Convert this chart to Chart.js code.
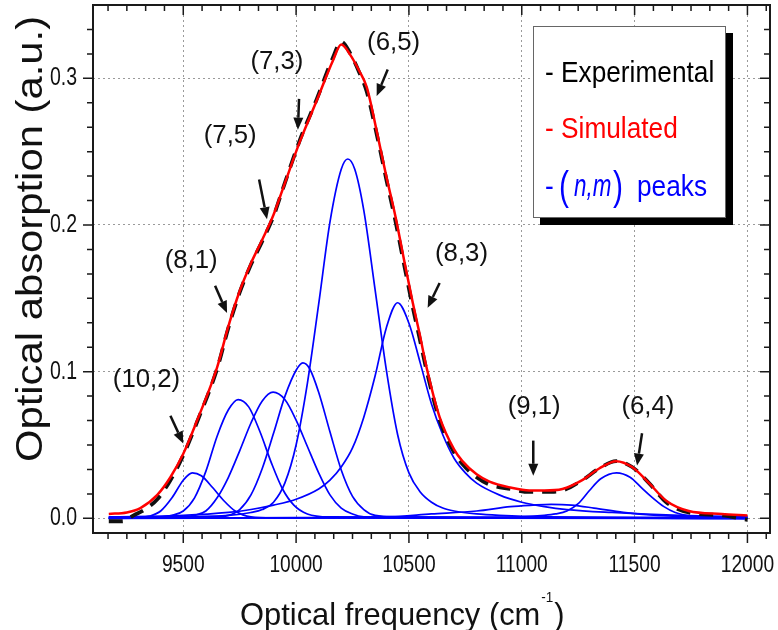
<!DOCTYPE html>
<html>
<head>
<meta charset="utf-8">
<script src="https://cdn.jsdelivr.net/npm/chart.js@4"></script>
<style>
  html, body { margin: 0; padding: 0; background: #fff; }
  #wrap { width: 778px; height: 630px; }
</style>
</head>
<body>
<div id="wrap"><canvas id="chart" width="778" height="630"></canvas></div>
<script>
// trục
const xTicks = [9500, 10000, 10500, 11000, 11500, 12000];
const xTickLabels = ['9500', '10000', '10500', '11000', '11500', '12000'];
const yTicks = [0, 0.1, 0.2, 0.3];
const yTickLabels = ['0.0', '0.1', '0.2', '0.3'];

// phổ đo (Experimental)
const expX = [9170, 9230, 9280, 9330, 9385, 9443, 9500, 9562, 9650, 9700, 9750, 9800, 9850, 9900, 9942, 10017, 10092, 10163, 10200, 10240, 10280, 10313, 10360, 10400, 10440, 10480, 10517, 10547, 10578, 10636, 10700, 10737, 10800, 10857, 10950, 11033, 11100, 11180, 11268, 11343, 11418, 11489, 11564, 11640, 11740, 11886, 12000];
const expY = [-0.002, -0.002, 0.002, 0.006, 0.013, 0.026, 0.043, 0.066, 0.102, 0.130, 0.154, 0.173, 0.189, 0.206, 0.225, 0.258, 0.286, 0.314, 0.325, 0.317, 0.304, 0.291, 0.260, 0.231, 0.203, 0.172, 0.144, 0.123, 0.101, 0.067, 0.045, 0.037, 0.028, 0.023, 0.020, 0.018, 0.018, 0.019, 0.026, 0.034, 0.039, 0.035, 0.024, 0.011, 0.004, 0.002, -0.001];

// phổ mô phỏng (Simulated)
const simX = [9170, 9250, 9310, 9385, 9443, 9500, 9562, 9650, 9700, 9750, 9800, 9850, 9900, 9942, 10017, 10092, 10163, 10200, 10240, 10280, 10313, 10360, 10400, 10440, 10480, 10517, 10547, 10578, 10636, 10700, 10737, 10800, 10857, 10950, 11033, 11100, 11180, 11268, 11343, 11418, 11489, 11564, 11640, 11740, 11886, 12000];
const simY = [0.003, 0.004, 0.007, 0.016, 0.028, 0.044, 0.067, 0.103, 0.131, 0.155, 0.174, 0.190, 0.207, 0.225, 0.257, 0.285, 0.312, 0.323, 0.316, 0.305, 0.294, 0.262, 0.233, 0.206, 0.175, 0.147, 0.126, 0.103, 0.069, 0.047, 0.039, 0.030, 0.025, 0.021, 0.019, 0.019, 0.020, 0.026, 0.034, 0.039, 0.035, 0.024, 0.012, 0.005, 0.003, 0.002];

// các đỉnh (n,m)
const p102x = [9170, 9300, 9350, 9400, 9450, 9500, 9540, 9580, 9630, 9680, 9730, 9800, 9900, 12000];
const p102y = [0, 0.0005, 0.0015, 0.005, 0.014, 0.026, 0.031, 0.029, 0.021, 0.012, 0.005, 0.001, 0.0003, 0];

const p81x = [9170, 9400, 9450, 9500, 9550, 9600, 9650, 9700, 9743, 9790, 9840, 9890, 9940, 9990, 10050, 10150, 12000];
const p81y = [0.0005, 0.001, 0.002, 0.005, 0.014, 0.032, 0.056, 0.074, 0.081, 0.076, 0.059, 0.038, 0.020, 0.009, 0.003, 0.001, 0];

const p75x = [9170, 9500, 9550, 9600, 9650, 9700, 9750, 9800, 9850, 9898, 9950, 10000, 10050, 10100, 10150, 10200, 10250, 10300, 10400, 12000];
const p75y = [0.0005, 0.001, 0.002, 0.005, 0.014, 0.028, 0.046, 0.065, 0.080, 0.086, 0.081, 0.067, 0.049, 0.031, 0.016, 0.007, 0.003, 0.001, 0.0005, 0];

const p73x = [9170, 9650, 9700, 9750, 9800, 9850, 9900, 9950, 10000, 10030, 10060, 10100, 10150, 10200, 10250, 10300, 10350, 10450, 12000];
const p73y = [0.001, 0.001, 0.002, 0.006, 0.016, 0.034, 0.058, 0.083, 0.101, 0.106, 0.102, 0.086, 0.059, 0.033, 0.015, 0.006, 0.002, 0.001, 0];

const p65x = [9170, 9500, 9700, 9800, 9850, 9900, 9950, 10000, 10050, 10100, 10150, 10200, 10229, 10260, 10300, 10350, 10400, 10450, 10500, 10550, 10600, 10650, 10700, 10800, 10900, 11100, 12000];
const p65y = [0.0005, 0.001, 0.002, 0.004, 0.006, 0.011, 0.024, 0.050, 0.092, 0.146, 0.202, 0.238, 0.245, 0.238, 0.210, 0.156, 0.101, 0.057, 0.031, 0.018, 0.011, 0.007, 0.005, 0.003, 0.002, 0.001, 0.0005];

const p83x = [9170, 9500, 9700, 9800, 9900, 10000, 10100, 10150, 10200, 10250, 10300, 10350, 10400, 10450, 10500, 10550, 10600, 10650, 10700, 10750, 10800, 10900, 11000, 11100, 11200, 11400, 11700, 12000];
const p83y = [0.001, 0.002, 0.004, 0.006, 0.009, 0.013, 0.020, 0.026, 0.035, 0.048, 0.069, 0.097, 0.130, 0.147, 0.133, 0.106, 0.078, 0.057, 0.041, 0.031, 0.024, 0.016, 0.011, 0.008, 0.006, 0.004, 0.002, 0.001];

const p91x = [9170, 10000, 10400, 10600, 10800, 10950, 11050, 11130, 11220, 11320, 11450, 11600, 11800, 12000];
const p91y = [0, 0.0005, 0.001, 0.003, 0.005, 0.008, 0.009, 0.0095, 0.009, 0.007, 0.004, 0.002, 0.001, 0.0005];

const p64x = [9170, 10800, 11000, 11100, 11150, 11200, 11250, 11300, 11350, 11420, 11480, 11530, 11580, 11630, 11680, 11750, 11850, 12000];
const p64y = [0, 0.0005, 0.001, 0.002, 0.003, 0.005, 0.010, 0.019, 0.027, 0.031, 0.028, 0.021, 0.014, 0.008, 0.004, 0.0015, 0.0005, 0];

// nhãn chú thích (toạ độ theo dữ liệu)
const annLabels = ['(10,2)', '(8,1)', '(7,5)', '(7,3)', '(6,5)', '(8,3)', '(9,1)', '(6,4)'];
const annAt = [[9337, 0.094], [9535, 0.1755], [9708, 0.2605], [9915, 0.311], [10432, 0.324], [10733, 0.180], [11055, 0.0755], [11559, 0.0755]];
const arrowFrom = [[9443, 0.070], [9641, 0.1585], [9836, 0.231], [10013, 0.286], [10406, 0.306], [10636, 0.1605], [11051, 0.053], [11533, 0.058]];
const arrowTo = [[9500, 0.051], [9694, 0.140], [9871, 0.204], [10008, 0.265], [10357, 0.288], [10583, 0.1435], [11051, 0.029], [11511, 0.036]];

const FONT = '"Liberation Sans", Arial, sans-serif';
const BLUE = '#0000ff';
const RED = '#ff0000';
const INK = '#111';

function pts(xs, ys) {
    return xs.map((v, i) => ({ x: v, y: ys[i] }));
}

function curve(label, xs, ys, color, width, dash) {
    return {
        label: label,
        data: pts(xs, ys),
        showLine: true,
        borderColor: color,
        borderWidth: width,
        borderDash: dash || [],
        pointRadius: 0,
        fill: false,
        cubicInterpolationMode: 'monotone'
    };
}

function text(ctx, str, x, y, size, sx, color, align, base, style) {
    ctx.save();
    ctx.font = (style || '') + ' ' + size + 'px ' + FONT;
    ctx.fillStyle = color;
    ctx.textAlign = align || 'center';
    ctx.textBaseline = base || 'middle';
    ctx.translate(x, y);
    ctx.scale(sx, 1);
    ctx.fillText(str, 0, 0);
    ctx.restore();
}

function textWidth(ctx, str, size, sx, style) {
    ctx.save();
    ctx.font = (style || '') + ' ' + size + 'px ' + FONT;
    const w = ctx.measureText(str).width * sx;
    ctx.restore();
    return w;
}

function arrow(ctx, x1, y1, x2, y2) {
    const ang = Math.atan2(y2 - y1, x2 - x1);
    const hl = 12, hw = 5;
    const bx = x2 - hl * Math.cos(ang), by = y2 - hl * Math.sin(ang);
    ctx.beginPath();
    ctx.moveTo(x1, y1);
    ctx.lineTo(bx, by);
    ctx.stroke();
    ctx.beginPath();
    ctx.moveTo(x2, y2);
    ctx.lineTo(bx + hw * Math.sin(ang), by - hw * Math.cos(ang));
    ctx.lineTo(bx - hw * Math.sin(ang), by + hw * Math.cos(ang));
    ctx.closePath();
    ctx.fill();
}

// khung, vạch chia, chữ, chú giải
const decorPlugin = {
    id: 'decor',
    afterDraw(chart) {
        const ctx = chart.ctx;
        const a = chart.chartArea;
        const x = chart.scales.x, y = chart.scales.y;

        ctx.save();
        ctx.strokeStyle = '#1a1a1a';
        ctx.lineWidth = 2;
        ctx.strokeRect(a.left, a.top, a.right - a.left, a.bottom - a.top);

        // vạch chia trục x (5 vạch phụ giữa hai vạch chính)
        ctx.lineWidth = 1.5;
        const xs = 500 / 6;
        for (let k = -12; k <= 40; k++) {
            const v = 9500 + k * xs;
            if (v <= x.min || v >= x.max) continue;
            const px = x.getPixelForValue(v);
            const len = (k % 6 === 0) ? 10 : 6;
            ctx.beginPath();
            ctx.moveTo(px, a.bottom); ctx.lineTo(px, a.bottom + len);
            ctx.moveTo(px, a.top); ctx.lineTo(px, a.top + len);
            ctx.stroke();
        }
        const ys = 0.1 / 6;
        for (let k = -6; k <= 30; k++) {
            const v = k * ys;
            if (v <= y.min || v >= y.max - 1e-9) continue;
            const py = y.getPixelForValue(v);
            const len = (k % 6 === 0) ? 10 : 6;
            ctx.beginPath();
            ctx.moveTo(a.left - len, py); ctx.lineTo(a.left, py);
            ctx.moveTo(a.right - len, py); ctx.lineTo(a.right, py);
            ctx.stroke();
        }
        ctx.restore();

        // nhãn vạch chia
        xTicks.forEach((v, i) => {
            text(ctx, xTickLabels[i], x.getPixelForValue(v), a.bottom + 39, 24, 0.8, INK, 'center', 'alphabetic');
        });
        yTicks.forEach((v, i) => {
            text(ctx, yTickLabels[i], a.left - 16, y.getPixelForValue(v), 25, 0.78, INK, 'right', 'middle');
        });

        // tiêu đề trục
        const tx = 240, tb = 625;
        const main = 'Optical frequency (cm';
        text(ctx, main, tx, tb, 32, 0.965, INK, 'left', 'alphabetic');
        const w1 = textWidth(ctx, main, 32, 0.965);
        text(ctx, '-1', tx + w1 + 1, tb - 23, 15, 0.9, INK, 'left', 'alphabetic');
        const w2 = textWidth(ctx, '-1', 15, 0.9);
        text(ctx, ')', tx + w1 + w2 + 2, tb, 32, 0.965, INK, 'left', 'alphabetic');

        ctx.save();
        ctx.translate(42, 239);
        ctx.rotate(-Math.PI / 2);
        ctx.scale(1.13, 1);
        ctx.font = '37px ' + FONT;
        ctx.fillStyle = INK;
        ctx.textAlign = 'center';
        ctx.textBaseline = 'alphabetic';
        ctx.fillText('Optical absorption (a.u.)', 0, 0);
        ctx.restore();

        // mũi tên và nhãn (n,m)
        ctx.save();
        ctx.strokeStyle = '#111';
        ctx.fillStyle = '#111';
        ctx.lineWidth = 2.5;
        arrowFrom.forEach((p, i) => {
            arrow(ctx,
                x.getPixelForValue(p[0]), y.getPixelForValue(p[1]),
                x.getPixelForValue(arrowTo[i][0]), y.getPixelForValue(arrowTo[i][1]));
        });
        ctx.restore();
        annLabels.forEach((s, i) => {
            text(ctx, s, x.getPixelForValue(annAt[i][0]), y.getPixelForValue(annAt[i][1]), 25, 1.03, INK, 'center', 'middle');
        });

        // hộp chú giải
        ctx.save();
        ctx.fillStyle = '#000';
        ctx.fillRect(540, 33, 193, 192);
        ctx.fillStyle = '#fff';
        ctx.fillRect(533, 26, 192, 191);
        ctx.strokeStyle = '#666';
        ctx.lineWidth = 1;
        ctx.strokeRect(533.5, 26.5, 192, 191);
        ctx.restore();

        text(ctx, '- Experimental', 545, 82, 30, 0.875, '#000', 'left', 'alphabetic');
        text(ctx, '- Simulated', 545, 138, 30, 0.875, RED, 'left', 'alphabetic');
        text(ctx, '-', 545, 196, 30, 0.875, BLUE, 'left', 'alphabetic');
        text(ctx, '(', 559, 200, 40, 0.75, BLUE, 'left', 'alphabetic');
        text(ctx, 'n,m', 574, 196, 32, 0.7, BLUE, 'left', 'alphabetic', 'italic');
        text(ctx, ')', 613, 200, 40, 0.75, BLUE, 'left', 'alphabetic');
        text(ctx, 'peaks', 637, 196, 30, 0.875, BLUE, 'left', 'alphabetic');
    }
};

const datasets = [
    curve('Simulated', simX, simY, RED, 2.5),
    curve('Experimental', expX, expY, '#111', 3.8, [14, 9]),
    curve('(10,2)', p102x, p102y, BLUE, 1.7),
    curve('(8,1)', p81x, p81y, BLUE, 1.7),
    curve('(7,5)', p75x, p75y, BLUE, 1.7),
    curve('(7,3)', p73x, p73y, BLUE, 1.7),
    curve('(6,5)', p65x, p65y, BLUE, 1.7),
    curve('(8,3)', p83x, p83y, BLUE, 1.7),
    curve('(9,1)', p91x, p91y, BLUE, 1.7),
    curve('(6,4)', p64x, p64y, BLUE, 1.7)
];

new Chart(document.getElementById('chart').getContext('2d'), {
    type: 'scatter',
    data: { datasets: datasets },
    options: {
        responsive: false,
        animation: false,
        layout: { padding: { top: 5, right: 8, left: 0, bottom: 0 } },
        plugins: {
            legend: { display: false },
            tooltip: { enabled: false }
        },
        scales: {
            x: {
                type: 'linear',
                min: 9100,
                max: 12100,
                afterBuildTicks: s => { s.ticks = xTicks.map(v => ({ value: v })); },
                afterFit: s => { s.height = 97; },
                ticks: { display: false },
                grid: { color: '#9a9a9a', lineWidth: 1, drawTicks: false },
                border: { display: false, dash: [2, 3] }
            },
            y: {
                type: 'linear',
                min: -0.01,
                max: 0.35,
                afterBuildTicks: s => { s.ticks = yTicks.map(v => ({ value: v })); },
                afterFit: s => { s.width = 93; },
                ticks: { display: false },
                grid: { color: '#9a9a9a', lineWidth: 1, drawTicks: false },
                border: { display: false, dash: [2, 3] }
            }
        }
    },
    plugins: [decorPlugin]
});
</script>
</body>
</html>
